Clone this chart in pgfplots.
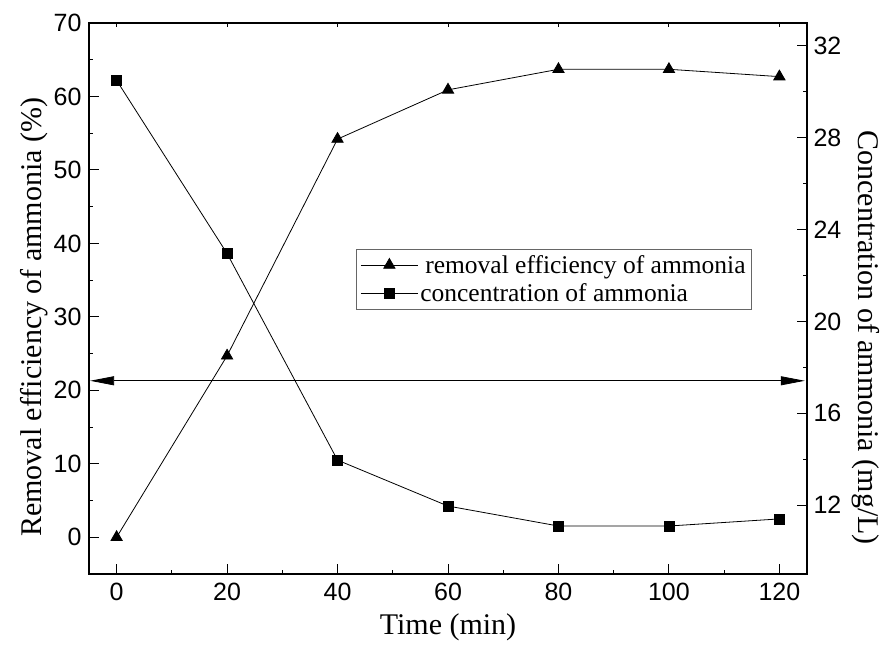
\documentclass[border=0pt]{standalone}
\usepackage{fontspec}
\setmainfont{Liberation Serif}
\newfontfamily\ticksans{Liberation Sans}
\usepackage{pgfplots}
\pgfplotsset{compat=1.18}
\usetikzlibrary{arrows.meta}

% time (min), removal efficiency (%), ammonia concentration (mg/L)
\pgfplotstableread{
t   eff   conc
0   0.0   30.50
20  24.7  22.96
40  54.2  13.96
60  60.9  11.96
80  63.7  11.09
100 63.7  11.09
120 62.7  11.40
}\ammonia

\pgfplotsset{
  common/.style={
    scale only axis, width=718pt, height=551pt,
    xmin=-5, xmax=125,
    tick align=inside,
    major tick length=10pt, minor tick length=4pt,
    tick style={black, line width=1pt},
    axis line style={black, line width=1.5pt},
    /pgf/number format/assume math mode=true,
    ticklabel style={font=\ticksans\fontsize{25}{29}\selectfont},
    label style={font=\fontsize{30}{35}\selectfont},
  },
}

\begin{document}
\begin{tikzpicture}
\useasboundingbox (-89pt,-72pt) rectangle (793pt,574pt);

% left axis: removal efficiency
\begin{axis}[common,
  ymin=-5, ymax=70,
  xtick={0,20,...,120}, ytick={0,10,...,70},
  minor x tick num=1, minor y tick num=1,
  xtick pos=bottom, ytick pos=left,
  xticklabel style={yshift=-6pt},
  yticklabel style={xshift=-4pt},
  clip=false,
  xlabel={Time (min)},
  xlabel style={at={(axis description cs:0.5,-0.097)}, anchor=center},
  ylabel={Removal efficiency of ammonia (\%)},
  ylabel style={at={(axis description cs:-0.077,0.466)}, anchor=center},
  legend style={at={(axis description cs:0.372,0.590)}, anchor=north west,
    draw=black!60, line width=0.8pt, inner sep=4pt, row sep=5pt,
    font=\fontsize{25.5}{30}\selectfont},
  legend cell align=left,
  legend image code/.code={\draw[mark repeat=2, mark phase=2, #1]
    plot coordinates {(0pt,0pt) (28.5pt,0pt) (57pt,0pt)};},
]
\addplot[black, line width=0.8pt, mark=triangle*, mark size=6.5pt,
  mark options={solid}] table[x=t, y=eff] {\ammonia};
\addlegendentry{\hspace{5pt}removal efficiency of ammonia\hspace{40pt}}
\addlegendimage{black, line width=0.8pt, mark=square*, mark size=5pt}
\addlegendentry{concentration of ammonia}

% double-headed guide arrow
\addplot[black, line width=0.8pt,
  {Triangle[length=24pt,width=9pt]}-{Triangle[length=24pt,width=9pt]},
  forget plot] coordinates {(-4.8,21.3) (124.6,21.3)};
\end{axis}

% right axis: ammonia concentration
\begin{axis}[common,
  ymin=9, ymax=33,
  axis y line*=right, hide x axis,
  ytick={12,16,...,32}, minor y tick num=1,
  yticklabel style={xshift=3pt},
  ylabel={Concentration of ammonia (mg/L)},
  ylabel style={at={(axis description cs:1.082,0.429)}, anchor=center, rotate=180},
]
\addplot[black, line width=0.8pt, mark=square*, mark size=5pt]
  table[x=t, y=conc] {\ammonia};
\end{axis}

% short ticks along the top edge
\begin{axis}[common,
  ymin=0, ymax=1,
  axis x line*=top, hide y axis,
  xtick={0,20,...,120}, xticklabels={},
  major tick length=4pt,
]
\end{axis}
\end{tikzpicture}
\end{document}
